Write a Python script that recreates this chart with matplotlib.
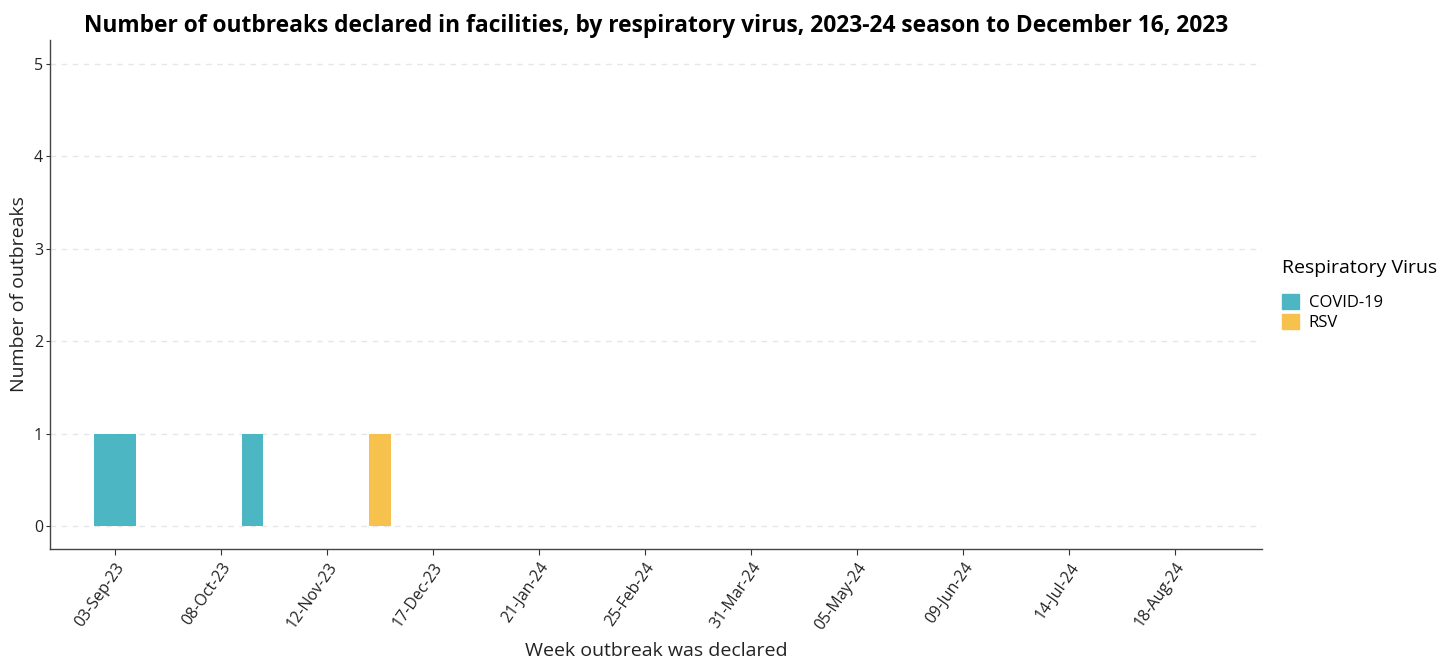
import matplotlib
matplotlib.use("Agg")
import matplotlib.pyplot as plt
import matplotlib.dates as mdates
from matplotlib.patches import Patch
import pandas as pd

plt.rcParams["font.family"] = ["Open Sans", "DejaVu Sans"]

# weeks are drawn from their start date, one week wide
covid_weeks = ["2023-08-27", "2023-09-03", "2023-10-15"]
covid_counts = [1, 1, 1]
rsv_weeks = ["2023-11-26"]
rsv_counts = [1]

tick_dates = pd.date_range("2023-09-03", "2024-08-18", freq="35D")
y_ticks = [0, 1, 2, 3, 4, 5]

COVID_COLOR = "#4db6c3"
RSV_COLOR = "#f6c24d"

figure = plt.figure(figsize=(14.52, 6.64), dpi=100)
axis = figure.add_axes([0.0344, 0.173, 0.8347, 0.767])

week = pd.Timedelta(days=7)
axis.bar(pd.to_datetime(covid_weeks), covid_counts, width=week, align="edge",
         color=COVID_COLOR, zorder=3)
axis.bar(pd.to_datetime(rsv_weeks), rsv_counts, width=week, align="edge",
         color=RSV_COLOR, zorder=3)

start = pd.Timestamp("2023-09-03")
axis.set_xlim(start - pd.Timedelta(days=21.5), start + pd.Timedelta(days=378.7))
axis.set_ylim(-0.25, 5.26)
axis.set_xticks(tick_dates)
axis.xaxis.set_major_formatter(mdates.DateFormatter("%d-%b-%y"))
axis.set_yticks(y_ticks)
for label in axis.get_xticklabels():
    label.set_rotation(55)
    label.set_ha("right")
    label.set_rotation_mode("anchor")

axis.tick_params(axis="both", labelsize=11.5, color="#333333", length=4, labelcolor="#222222")
axis.tick_params(axis="y", length=3, pad=2)
axis.grid(axis="y", linestyle=(0, (4, 4)), color="#e6e6e6", linewidth=1, zorder=0)
axis.spines["top"].set_visible(False)
axis.spines["right"].set_visible(False)
for side in ("left", "bottom"):
    axis.spines[side].set_color("#444444")
    axis.spines[side].set_linewidth(1)

axis.set_xlabel("Week outbreak was declared", fontsize=14, color="#222222", labelpad=7)
axis.set_ylabel("Number of outbreaks", fontsize=14, color="#222222", labelpad=4)
axis.set_title("Number of outbreaks declared in facilities, by respiratory virus, "
               "2023-24 season to December 16, 2023",
               fontsize=16.4, fontweight="bold", pad=6)

handles = [Patch(color=COVID_COLOR), Patch(color=RSV_COLOR)]
legend = figure.legend(handles, ["COVID-19", "RSV"], title="Respiratory Virus",
                       loc="upper left", bbox_to_anchor=(0.8725, 0.632),
                       frameon=False, fontsize=12, title_fontsize=14,
                       handlelength=1.0, handleheight=1.0, handletextpad=0.6,
                       labelspacing=0.15)
legend._legend_box.align = "left"
legend._legend_box.sep = 12

figure.savefig("out.png", dpi=100)
